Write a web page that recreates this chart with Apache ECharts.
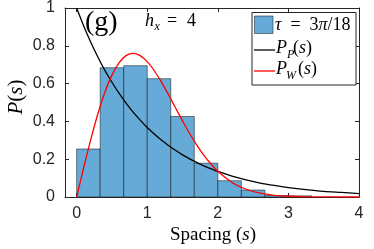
<!DOCTYPE html>
<html><head><meta charset="utf-8">
<script src="https://cdn.jsdelivr.net/npm/echarts@6/dist/echarts.min.js"></script>
<style>html,body{margin:0;padding:0;background:#fff}#c{width:374px;height:249px}</style>
</head><body><div id="c"></div>
<script>
// Histogram bins (left edge, right edge) and normalized heights
var binWidth = 1/3;
var binLeft = [0, 1/3, 2/3, 1, 4/3, 5/3, 2, 7/3, 8/3, 3];
var binHeights = [0.254, 0.684, 0.695, 0.626, 0.426, 0.179, 0.086, 0.037, 0.008, 0.006];
// Curves
var sGrid = [0,0.1,0.2,0.3,0.4,0.5,0.6,0.7,0.8,0.9,1.0,1.1,1.2,1.3,1.4,1.5,1.6,1.7,1.8,1.9,2.0,2.2,2.4,2.6,2.8,3.0,3.25,3.5,3.75,4.0];
var pP = [1.0,0.905,0.819,0.741,0.670,0.607,0.549,0.497,0.449,0.407,0.368,0.333,0.301,0.273,0.247,0.223,0.202,0.183,0.165,0.150,0.135,0.111,0.091,0.074,0.061,0.050,0.039,0.030,0.024,0.018];
var pW = [0,0.156,0.304,0.439,0.554,0.645,0.710,0.748,0.760,0.748,0.716,0.668,0.609,0.542,0.472,0.403,0.336,0.276,0.222,0.176,0.136,0.077,0.041,0.020,0.009,0.004,0.001,0.0003,0.0001,0];
var xTicks = [0,1,2,3,4];
var yTicks = [0,0.2,0.4,0.6,0.8,1];

var barData = binLeft.map(function(l,i){return [l, l+binWidth, binHeights[i]];});
var pPData = sGrid.map(function(s,i){return [s,pP[i]];});
var pWData = sGrid.map(function(s,i){return [s,pW[i]];});

var AX = '#262626';
var chart = echarts.init(document.getElementById('c'), null, {renderer:'canvas'});
var serif = '"Liberation Serif","DejaVu Serif",serif';
var sans = '"Liberation Sans",Arial,sans-serif';
function xAx(pos, show){
  return {type:'value', position:pos, min:-0.165, max:4,
    axisLine:{show:true, onZero:false, lineStyle:{color:AX,width:1}},
    axisTick:{show:true, inside:true, length:4, customValues:xTicks, lineStyle:{color:AX}},
    axisLabel:{show:show, customValues:xTicks, color:'#262626', fontSize:16, fontFamily:sans, margin:9},
    splitLine:{show:false}};
}
function yAx(pos, show){
  return {type:'value', position:pos, min:0, max:1,
    axisLine:{show:true, onZero:false, lineStyle:{color:AX,width:1}},
    axisTick:{show:true, inside:true, length:4, customValues:yTicks, lineStyle:{color:AX}},
    axisLabel:{show:show, customValues:yTicks, color:'#262626', fontSize:16, fontFamily:sans, margin:10,
      formatter:function(v){return String(Math.round(v*10)/10);}},
    splitLine:{show:false}};
}
function rich(sz){
  return {
    i:{fontFamily:serif, fontStyle:'italic', fontSize:sz, fill:'#000'},
    n:{fontFamily:serif, fontSize:sz, fill:'#000'}
  };
}
chart.setOption({
  animation:false,
  grid:{left:65, right:15, top:6, bottom:52},
  xAxis:[xAx('bottom',true), xAx('top',false)],
  yAxis:[yAx('left',true), yAx('right',false)],
  series:[
    {type:'custom', name:'hist', xAxisIndex:0, yAxisIndex:0, data:barData, encode:{x:[0,1],y:2},
      clip:true,
      renderItem:function(params, api){
        var p0 = api.coord([api.value(0), api.value(2)]);
        var p1 = api.coord([api.value(1), 0]);
        return {type:'rect', shape:{x:p0[0], y:p0[1], width:p1[0]-p0[0], height:p1[1]-p0[1]},
          style:{fill:'#66aad7', stroke:'rgba(0,0,0,0.6)', lineWidth:0.8}};
      }},
    {type:'line', name:'PP', data:pPData, showSymbol:false, smooth:0.3, clip:true,
      lineStyle:{color:'#000', width:1.3}},
    {type:'line', name:'PW', data:pWData, showSymbol:false, smooth:0.3, clip:true,
      lineStyle:{color:'#ff0000', width:1.3}}
  ],
  graphic:[
    {type:'text', x:85, y:23, z:10, style:{text:'(g)', font:'28px '+serif, fill:'#000', verticalAlign:'middle'}},
    {type:'text', x:145, y:30, z:10, style:{text:'h', font:'italic 18px '+serif, fill:'#000', verticalAlign:'bottom'}},
    {type:'text', x:154.5, y:33, z:10, style:{text:'x', font:'italic 12px '+serif, fill:'#000', verticalAlign:'bottom'}},
    {type:'text', x:167, y:30, z:10, style:{text:'=', font:'18px '+serif, fill:'#000', verticalAlign:'bottom'}},
    {type:'text', x:187, y:30, z:10, style:{text:'4', font:'18px '+serif, fill:'#000', verticalAlign:'bottom'}},
    // Legend
    {type:'rect', z:20, shape:{x:252, y:12.5, width:104, height:72.5}, style:{fill:'#fff', stroke:'#262626', lineWidth:1}},
    {type:'rect', z:21, shape:{x:254.5, y:16, width:18.5, height:17.5}, style:{fill:'#66aad7', stroke:'rgba(0,0,0,0.6)', lineWidth:0.8}},
    {type:'text', z:21, x:275, y:25, style:{text:'{i|τ}{n|  =  3}{i|π}{n|/18}', rich:rich(18), verticalAlign:'middle'}},
    {type:'line', z:21, shape:{x1:254, y1:50, x2:275, y2:50}, style:{stroke:'#000', lineWidth:1.3}},
    {type:'text', z:21, x:276, y:57, style:{text:'P', font:'italic 18px '+serif, fill:'#000', verticalAlign:'bottom'}},
    {type:'text', z:21, x:287, y:61, style:{text:'P', font:'italic 12px '+serif, fill:'#000', verticalAlign:'bottom'}},
    {type:'text', z:21, x:293, y:57, style:{text:'{n|(}{i|s}{n|)}', rich:rich(18), verticalAlign:'bottom'}},
    {type:'line', z:21, shape:{x1:254, y1:71, x2:275, y2:71}, style:{stroke:'#ff0000', lineWidth:1.3}},
    {type:'text', z:21, x:276, y:78, style:{text:'P', font:'italic 18px '+serif, fill:'#000', verticalAlign:'bottom'}},
    {type:'text', z:21, x:286, y:82, style:{text:'W', font:'italic 12px '+serif, fill:'#000', verticalAlign:'bottom'}},
    {type:'text', z:21, x:298, y:78, style:{text:'{n|(}{i|s}{n|)}', rich:rich(18), verticalAlign:'bottom'}},
    // Axis names
    {type:'text', z:10, x:213, y:235, style:{text:'{n|Spacing (}{i|s}{n|)}', rich:rich(19), align:'center', verticalAlign:'middle'}},
    {type:'text', z:10, x:16, y:97, rotation:Math.PI/2, style:{text:'{i|P}{n|(}{i|s}{n|)}', rich:rich(21), align:'center', verticalAlign:'middle'}}
  ]
});
</script></body></html>
